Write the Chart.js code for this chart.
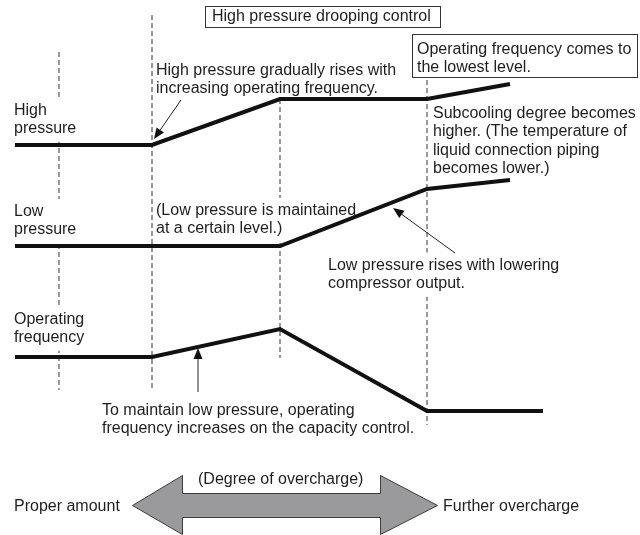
<!DOCTYPE html>
<html>
<head>
<meta charset="utf-8">
<script src="https://cdn.jsdelivr.net/npm/chart.js@4.4.1/dist/chart.umd.min.js"></script>
<style>
html,body{margin:0;padding:0;background:#fff}
#wrap{width:640px;height:535px}
</style>
</head>
<body>
<div id="wrap"><canvas id="c" width="640" height="535"></canvas></div>
<script>
// time course of each quantity (x = progress of overcharge, y = level, downward axis)
const highPressureX = [15, 152, 280, 427, 510]
const highPressureY = [145, 145, 99, 99, 84]
const lowPressureX = [15, 280, 427, 510]
const lowPressureY = [246, 246, 189, 180]
const frequencyX = [15, 152, 280, 427, 543]
const frequencyY = [357, 357, 329, 411, 411]

// phase boundaries (dashed guides)
const phaseX = [59, 152, 280, 427]
const phaseTop = [52, 15, 99, 80]
const phaseBottom = [390, 390, 358, 425]

const seriesLabels = [['High', 'pressure'], ['Low', 'pressure'], ['Operating', 'frequency']]
const titleText = 'High pressure drooping control'
const lowestText = ['Operating frequency comes to', 'the lowest level.']
const hpRiseText = ['High pressure gradually rises with', 'increasing operating frequency.']
const subcoolText = ['Subcooling degree becomes', 'higher. (The temperature of', 'liquid connection piping', 'becomes lower.)']
const lpKeptText = ['(Low pressure is maintained', 'at a certain level.)']
const lpRiseText = ['Low pressure rises with lowering', 'compressor output.']
const freqUpText = ['To maintain low pressure, operating', 'frequency increases on the capacity control.']
const scaleText = ['(Degree of overcharge)', 'Proper amount', 'Further overcharge']

const FONT = '16px "Liberation Sans", Arial, Helvetica, sans-serif'
const INK = '#1e1e1e'
const LH = 18.3

function pts(xs, ys) {
  return xs.map((x, i) => ({x: x, y: ys[i]}))
}

function thick(data) {
  return {data: data, showLine: true, borderColor: '#111', borderWidth: 4,
    pointRadius: 0, tension: 0, borderJoinStyle: 'miter', borderCapStyle: 'butt'}
}

const guideSets = phaseX.map((x, i) => ({
  data: [{x: x, y: phaseTop[i]}, {x: x, y: phaseBottom[i]}],
  showLine: true, borderColor: '#333', borderWidth: 1, borderDash: [5, 3],
  pointRadius: 0
}))
// datasets are painted last-to-first, so this one finishes the guides
const LAST_GUIDE = 3

// text blocks, boxes and callouts drawn over the plot
const notes = [
  {lines: seriesLabels[0], x: 14, y: 114.5, clear: true},
  {lines: seriesLabels[1], x: 14, y: 216, clear: true},
  {lines: seriesLabels[2], x: 14, y: 323.5, clear: true},
  {lines: [titleText], x: 212, y: 21},
  {lines: lowestText, x: 417, y: 54},
  {lines: hpRiseText, x: 156, y: 75},
  {lines: subcoolText, x: 433, y: 118},
  {lines: lpKeptText, x: 156, y: 215, clear: true},
  {lines: lpRiseText, x: 328, y: 269.5, clear: true},
  {lines: freqUpText, x: 102, y: 415},
  {lines: [scaleText[0]], x: 198, y: 484},
  {lines: [scaleText[1]], x: 14, y: 510.5},
  {lines: [scaleText[2]], x: 443, y: 510.5}
]
const boxes = [
  {x: 205, y: 6, w: 235, h: 21},
  {x: 412, y: 34, w: 225, h: 43}
]
const callouts = [
  [181, 100, 154, 139],
  [455, 253, 393, 208],
  [198, 392, 198, 348]
]
const bigArrow = [[132, 505], [182, 475], [182, 493], [380, 493], [380, 475], [437, 505],
  [380, 534], [380, 517], [182, 517], [182, 534]]

function drawArrow(ctx, x1, y1, x2, y2) {
  const a = Math.atan2(y2 - y1, x2 - x1)
  const len = 11, half = 4.5
  const bx = x2 - Math.cos(a) * len, by = y2 - Math.sin(a) * len
  ctx.beginPath()
  ctx.moveTo(x1, y1)
  ctx.lineTo(bx, by)
  ctx.stroke()
  ctx.beginPath()
  ctx.moveTo(x2, y2)
  ctx.lineTo(bx + Math.sin(a) * half, by - Math.cos(a) * half)
  ctx.lineTo(bx - Math.sin(a) * half, by + Math.cos(a) * half)
  ctx.closePath()
  ctx.fill()
}

const diagramText = {
  id: 'diagramText',
  // white ground under labels that sit across the guides, before the thick lines
  afterDatasetDraw(chart, args) {
    if (args.index !== LAST_GUIDE) return
    const ctx = chart.ctx
    const sx = chart.scales.x, sy = chart.scales.y
    ctx.save()
    ctx.font = FONT
    ctx.fillStyle = '#fff'
    notes.filter(n => n.clear).forEach(n => {
      const w = Math.max(...n.lines.map(l => ctx.measureText(l).width))
      const x = sx.getPixelForValue(n.x), y = sy.getPixelForValue(n.y)
      const bottom = y + (n.lines.length - 1) * LH
      ctx.fillRect(x - 2, y - 17, w + 4, bottom - y + 26)
    })
    ctx.restore()
  },
  afterDatasetsDraw(chart) {
    const ctx = chart.ctx
    const sx = chart.scales.x, sy = chart.scales.y
    ctx.save()
    ctx.font = FONT
    ctx.textBaseline = 'alphabetic'
    ctx.textAlign = 'left'

    ctx.fillStyle = INK
    notes.forEach(n => {
      const x = sx.getPixelForValue(n.x), y = sy.getPixelForValue(n.y)
      n.lines.forEach((l, i) => ctx.fillText(l, x, y + i * LH))
    })

    ctx.strokeStyle = '#333'
    ctx.lineWidth = 1
    boxes.forEach(b => {
      ctx.strokeRect(sx.getPixelForValue(b.x) + 0.5, sy.getPixelForValue(b.y) + 0.5, b.w, b.h)
    })

    ctx.strokeStyle = '#222'
    ctx.fillStyle = '#111'
    callouts.forEach(c => drawArrow(ctx, sx.getPixelForValue(c[0]), sy.getPixelForValue(c[1]),
      sx.getPixelForValue(c[2]), sy.getPixelForValue(c[3])))

    ctx.beginPath()
    bigArrow.forEach((p, i) => {
      const px = sx.getPixelForValue(p[0]) + 0.5, py = sy.getPixelForValue(p[1]) + 0.5
      if (i === 0) ctx.moveTo(px, py)
      else ctx.lineTo(px, py)
    })
    ctx.closePath()
    ctx.fillStyle = '#9a9a9c'
    ctx.fill()
    ctx.strokeStyle = '#3c3c3c'
    ctx.stroke()
    ctx.restore()
  }
}

new Chart(document.getElementById('c'), {
  type: 'scatter',
  data: {
    datasets: [
      thick(pts(highPressureX, highPressureY)),
      thick(pts(lowPressureX, lowPressureY)),
      thick(pts(frequencyX, frequencyY))
    ].concat(guideSets)
  },
  options: {
    responsive: false,
    animation: false,
    devicePixelRatio: 1,
    layout: {padding: 0},
    scales: {
      x: {type: 'linear', min: 0, max: 640, display: false},
      y: {type: 'linear', min: 0, max: 535, reverse: true, display: false}
    },
    plugins: {legend: {display: false}, tooltip: {enabled: false}}
  },
  plugins: [diagramText]
})
</script>
</body>
</html>
